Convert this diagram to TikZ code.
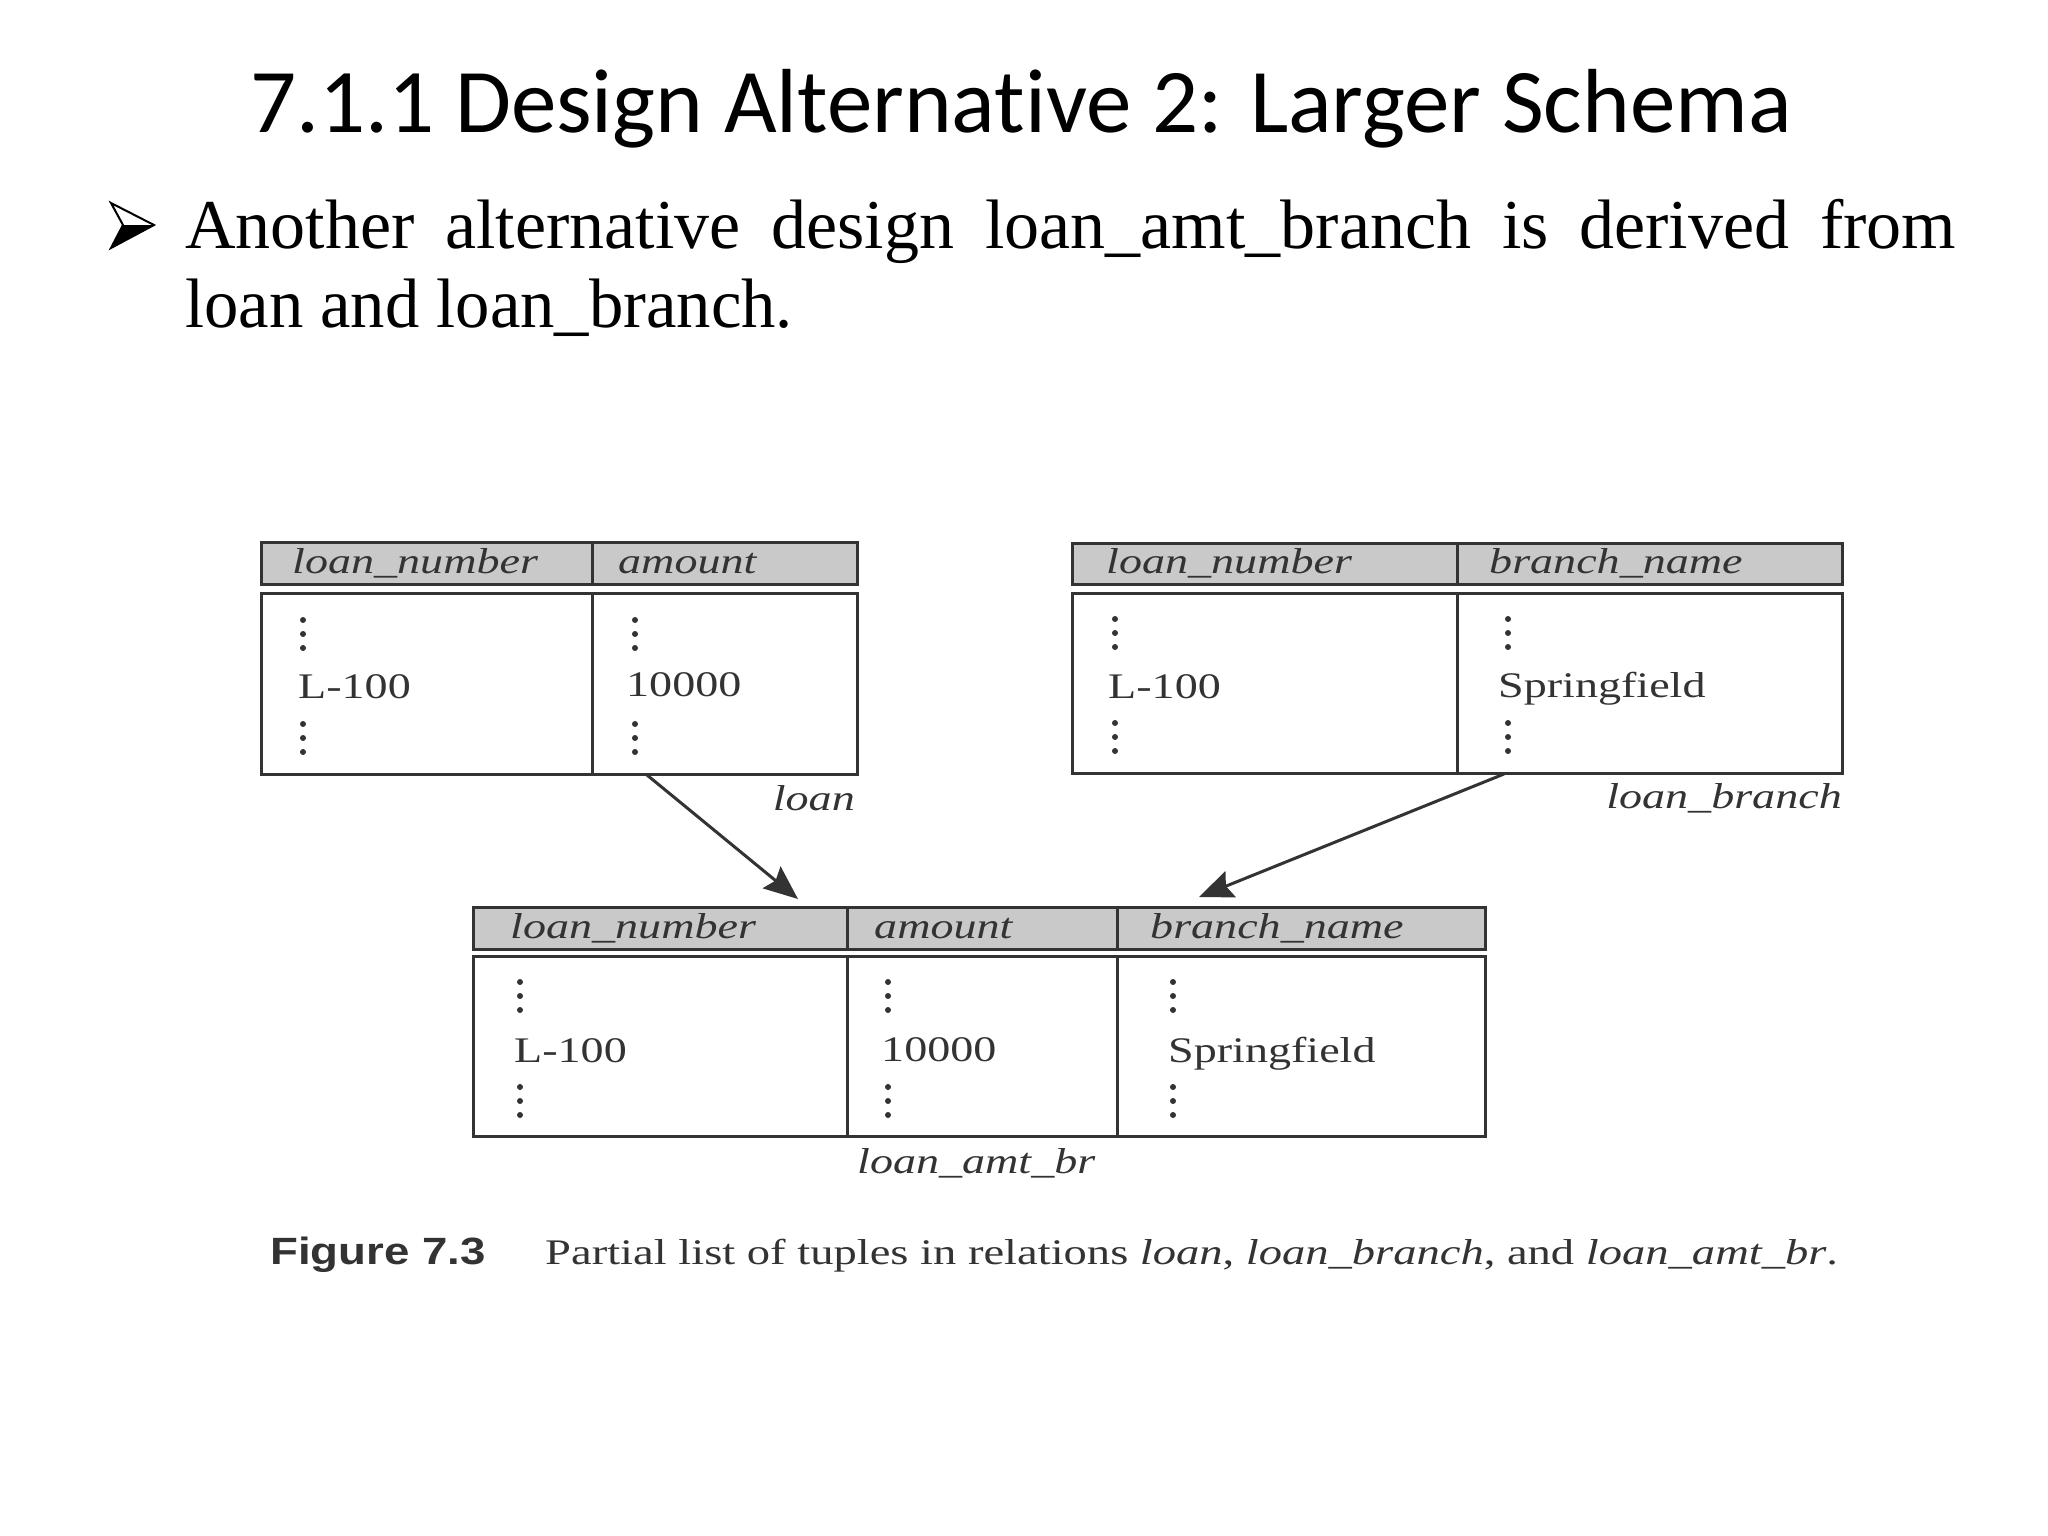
\documentclass[tikz,border=0pt]{standalone}
\usepackage{fontspec}
\usepackage{graphicx}
\setmainfont{Liberation Serif}
\newfontfamily\titlefont[Ligatures=NoCommon]{Carlito}
\newfontfamily\capfont{Liberation Sans}
\usetikzlibrary{arrows.meta}
\definecolor{ink}{HTML}{333333}
\definecolor{hdr}{HTML}{C9C9C9}
\newcommand\wtxt[1]{\scalebox{1.28}[1]{#1}}
\newcommand\vdts[2]{\fill[ink] (#1,#2) circle (3pt) (#1,#2+14) circle (3pt) (#1,#2+28) circle (3pt);}
\tikzset{
  hdrbox/.style={draw=ink, fill=hdr, line width=3pt, anchor=north west, inner sep=0pt, outer sep=0pt},
  bodybox/.style={draw=ink, line width=3pt, anchor=north west, inner sep=0pt, outer sep=0pt},
  cell/.style={anchor=base west, inner sep=0pt, text=ink, font=\fontsize{36}{40}\selectfont},
  colhead/.style={anchor=base west, inner sep=0pt, text=ink, font=\fontsize{36}{40}\selectfont\itshape},
  relname/.style={anchor=base east, inner sep=0pt, text=ink, font=\fontsize{36}{40}\selectfont\itshape},
  rule/.style={draw=ink, line width=3pt},
  flow/.style={draw=ink, line width=3pt, -{Stealth[length=34pt,width=28pt,inset=5pt]}},
}
\begin{document}
\begin{tikzpicture}[x=1pt,y=-1pt]
\fill[white] (0,0) rectangle (2048,1536);
\useasboundingbox (0,0) rectangle (2048,1536);

% title
\node[anchor=base, inner sep=0pt, font=\titlefont\fontsize{91}{100}\selectfont] (title) at (1021,133) {7.1.1 Design Alternative 2: Larger Schema};

% bullet
\draw[line width=2pt, line join=miter] (111,203) -- (154,225) -- (111,248) -- (123,225) -- cycle;
\fill (123,225) -- (154,225) -- (111,248) -- cycle;
\node[anchor=base west, inner sep=0pt, font=\fontsize{70}{79}\selectfont] (line1) at (185,248)
  {\makebox[1771pt][s]{Another alternative design loan\_amt\_branch is derived from}};
\node[anchor=base west, inner sep=0pt, font=\fontsize{70}{79}\selectfont] (line2) at (185,327)
  {\scalebox{0.98}[1]{loan and loan\_branch.}};

% table loan
\node[hdrbox, minimum width=596pt, minimum height=42pt] (t1h) at (261,542) {};
\node[bodybox, minimum width=596pt, minimum height=181pt] (t1b) at (261,593) {};
\draw[rule] (592,542) -- (592,584);
\draw[rule] (592,593) -- (592,774);
\node[colhead] (t1c1) at (292,573) {\wtxt{loan\_number}};
\node[colhead] (t1c2) at (618,573) {\wtxt{amount}};
\node[cell] (t1v1) at (298,698) {\wtxt{L-100}};
\node[cell] (t1v2) at (626,696) {\wtxt{10000}};
\vdts{303}{620}\vdts{303}{724}
\vdts{635}{620}\vdts{635}{724}
\node[relname] (t1n) at (855,810) {\wtxt{loan}};

% table loan_branch
\node[hdrbox, minimum width=770pt, minimum height=41pt] (t2h) at (1072,543) {};
\node[bodybox, minimum width=770pt, minimum height=180pt] (t2b) at (1072,593) {};
\draw[rule] (1457,543) -- (1457,584);
\draw[rule] (1457,593) -- (1457,773);
\node[colhead] (t2c1) at (1106,573) {\wtxt{loan\_number}};
\node[colhead] (t2c2) at (1489,573) {\wtxt{branch\_name}};
\node[cell] (t2v1) at (1108,698) {\wtxt{L-100}};
\node[cell] (t2v2) at (1498,697) {\wtxt{Springfield}};
\vdts{1115}{619}\vdts{1115}{723}
\vdts{1508}{619}\vdts{1508}{723}
\node[relname] (t2n) at (1842,808) {\wtxt{loan\_branch}};

% table loan_amt_br
\node[hdrbox, minimum width=1012pt, minimum height=42pt] (t3h) at (473,907) {};
\node[bodybox, minimum width=1012pt, minimum height=180pt] (t3b) at (473,956) {};
\draw[rule] (847,907) -- (847,949);
\draw[rule] (847,956) -- (847,1136);
\draw[rule] (1117,907) -- (1117,949);
\draw[rule] (1117,956) -- (1117,1136);
\node[colhead] (t3c1) at (510,938) {\wtxt{loan\_number}};
\node[colhead] (t3c2) at (874,938) {\wtxt{amount}};
\node[colhead] (t3c3) at (1150,938) {\wtxt{branch\_name}};
\node[cell] (t3v1) at (514,1062) {\wtxt{L-100}};
\node[cell] (t3v2) at (881,1061) {\wtxt{10000}};
\node[cell] (t3v3) at (1168,1062) {\wtxt{Springfield}};
\vdts{520}{982}\vdts{520}{1087}
\vdts{888}{982}\vdts{888}{1087}
\vdts{1173}{982}\vdts{1173}{1087}
\node[anchor=base west, inner sep=0pt, text=ink, font=\fontsize{36}{40}\selectfont\itshape] (t3n) at (857,1173) {\wtxt{loan\_amt\_br}};

% arrows
\coordinate (a1s) at (647,775);
\coordinate (a1e) at (798,899);
\coordinate (a2s) at (1504,774);
\coordinate (a2e) at (1199,897);
\draw[flow] (a1s) -- (a1e);
\draw[flow] (a2s) -- (a2e);

% caption
\node[anchor=base west, inner sep=0pt, text=ink, font=\capfont\bfseries\fontsize{38}{40}\selectfont] (fig) at (270,1264) {\scalebox{1.2}[1]{Figure 7.3}};
\node[cell] (cap) at (545,1264) {\scalebox{1.293}[1]{Partial list of tuples in relations \textit{loan}, \textit{loan\_branch}, and \textit{loan\_amt\_br}.}};
\end{tikzpicture}
\end{document}
